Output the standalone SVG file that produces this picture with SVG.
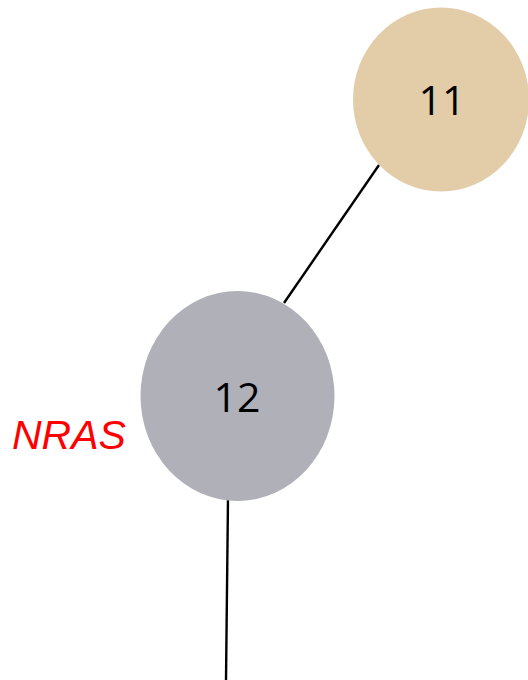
<svg xmlns="http://www.w3.org/2000/svg" width="528" height="680" viewBox="0 0 528 680">
<style>
.edge{stroke:#000;stroke-width:2.4;fill:none}
.lbl{font-family:"Open Sans","Liberation Sans",sans-serif;font-size:41px;fill:#000;text-anchor:middle}
.gene{font-family:"Liberation Sans",Arial,sans-serif;font-style:italic;font-size:41px;fill:#ff0000}
</style>
<rect width="528" height="680" fill="#fff"/>
<g id="connectors">
<line class="edge" x1="379" y1="165" x2="284" y2="303"/>
<line class="edge" x1="228" y1="498" x2="226" y2="680"/>
</g>
<g id="node11">
<ellipse cx="441" cy="99.5" rx="88" ry="92" fill="#e3cda8"/>
<text class="lbl" x="442" y="115">11</text>
</g>
<g id="node12">
<ellipse cx="237.5" cy="396" rx="97" ry="105" fill="#b0b1b8"/>
<text class="lbl" x="237" y="412">12</text>
</g>
<text class="gene" x="12" y="449">NRAS</text>
</svg>
